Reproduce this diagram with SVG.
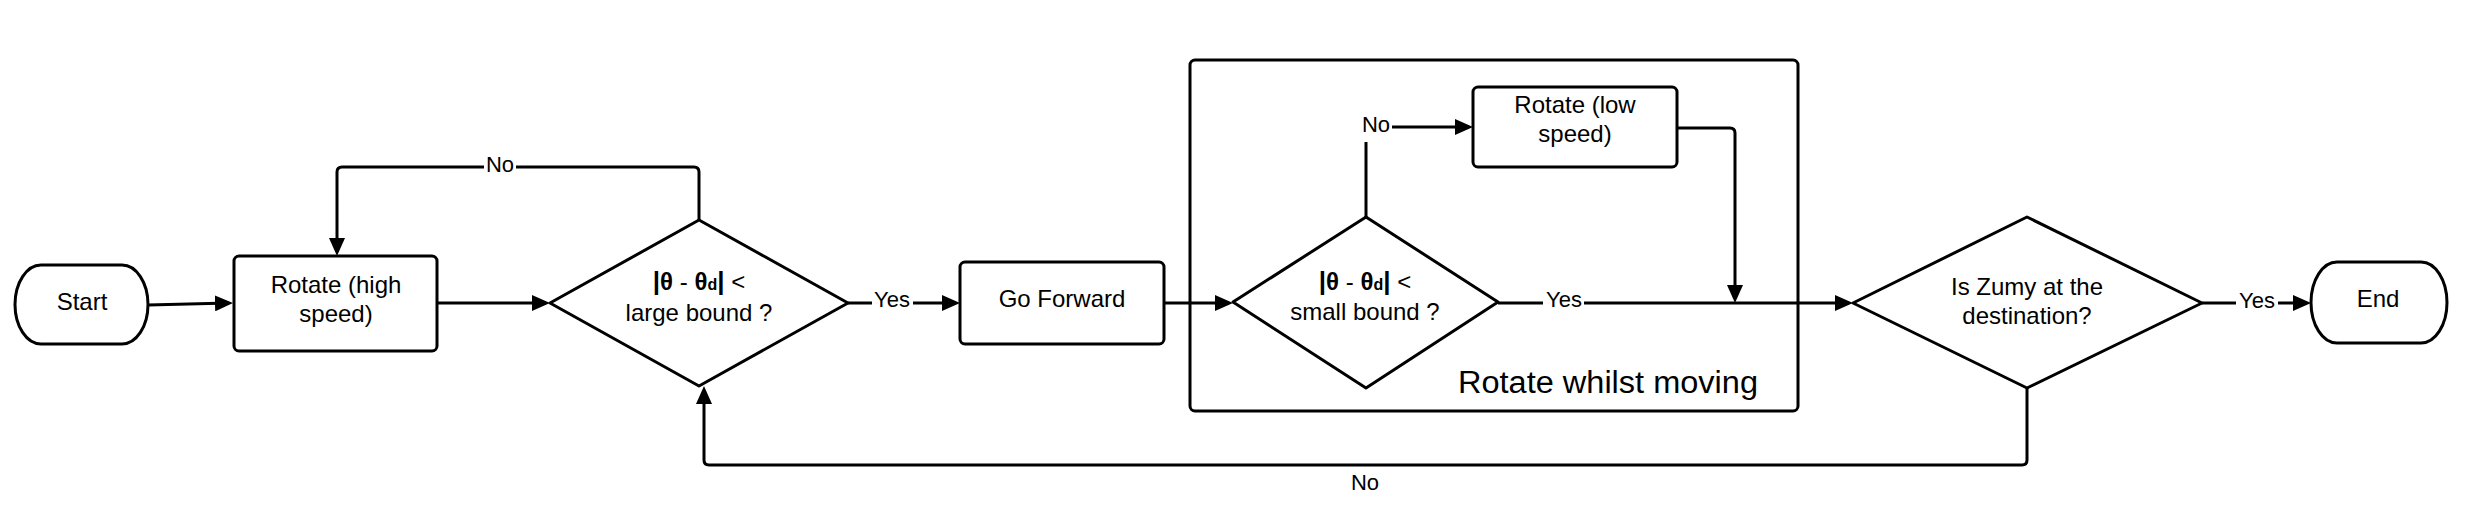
<svg xmlns="http://www.w3.org/2000/svg" width="2468" height="523" viewBox="0 0 2468 523">
<defs>
<marker id="arrow" markerUnits="userSpaceOnUse" markerWidth="18" markerHeight="16" refX="14" refY="8" orient="auto"><path d="M0,0 L18,8 L0,16 z" fill="#000"/></marker>
<style>
.shape{fill:#fff;stroke:#000;stroke-width:3;stroke-linejoin:round}
.conn{fill:none;stroke:#000;stroke-width:3;stroke-linejoin:round}
.arr{marker-end:url(#arrow)}
.t{font-family:"Liberation Sans",Arial,sans-serif;fill:#000;text-anchor:middle}
.n24{font-size:24px}
.lbl{font-size:22px}
.bg{fill:#fff}
.b{font-weight:bold}
</style>
</defs>
<rect width="2468" height="523" fill="#fff"/>

<g id="group-rotate-whilst-moving">
<rect class="shape" x="1190" y="60" width="608" height="351" rx="5"/>
<text class="t" x="1458" y="393" style="text-anchor:start;font-size:31px" textLength="300" lengthAdjust="spacingAndGlyphs">Rotate whilst moving</text>
</g>

<g id="connectors">
<path class="conn arr" d="M148,305 L229,303"/>
<path class="conn arr" d="M437,303 H546"/>
<path class="conn arr" d="M699,220 V172 Q699,167 694,167 H342 Q337,167 337,172 V252"/>
<path class="conn arr" d="M848,303 H956"/>
<path class="conn arr" d="M1164,303 H1229"/>
<path class="conn arr" d="M1366,217 V127 H1469"/>
<path class="conn arr" d="M1677,128 H1730 Q1735,128 1735,133 V299"/>
<path class="conn arr" d="M1498,303 H1849"/>
<path class="conn arr" d="M2202,303 H2307"/>
<path class="conn arr" d="M2027,388 V460 Q2027,465 2022,465 H709 Q704,465 704,460 V390"/>
<rect class="bg" x="484" y="152" width="32" height="28"/>
<text class="t lbl" x="500" y="172">No</text>
<rect class="bg" x="872" y="288" width="41" height="28"/>
<text class="t lbl" x="892" y="307">Yes</text>
<rect class="bg" x="1359" y="110" width="33" height="32"/>
<text class="t lbl" x="1376" y="132">No</text>
<rect class="bg" x="1543" y="288" width="41" height="28"/>
<text class="t lbl" x="1564" y="307">Yes</text>
<rect class="bg" x="2236" y="288" width="42" height="28"/>
<text class="t lbl" x="2257" y="308">Yes</text>
<text class="t lbl" x="1365" y="490">No</text>
</g>

<g id="start">
<rect class="shape" x="15" y="265" width="133" height="79" rx="26" ry="39.5"/>
<text class="t n24" x="82" y="310">Start</text>
</g>

<g id="rotate-high">
<rect class="shape" x="234" y="256" width="203" height="95" rx="5"/>
<text class="t n24" x="336" y="293">Rotate (high</text>
<text class="t n24" x="336" y="322">speed)</text>
</g>

<g id="decision-large">
<path class="shape" d="M550,303 L699,220 L848,303 L699,386 Z"/>
<text class="t n24" x="699" y="290"><tspan class="b" font-size="26">|</tspan><tspan class="b">θ</tspan> - <tspan class="b">θ</tspan><tspan class="b" font-size="16">d</tspan><tspan class="b" font-size="26">|</tspan> &lt;</text>
<text class="t n24" x="699" y="321">large bound ?</text>
</g>

<g id="go-forward">
<rect class="shape" x="960" y="262" width="204" height="82" rx="5"/>
<text class="t n24" x="1062" y="307">Go Forward</text>
</g>

<g id="decision-small">
<path class="shape" d="M1233,302 L1366,217 L1498,302 L1366,388 Z"/>
<text class="t n24" x="1365" y="290"><tspan class="b" font-size="26">|</tspan><tspan class="b">θ</tspan> - <tspan class="b">θ</tspan><tspan class="b" font-size="16">d</tspan><tspan class="b" font-size="26">|</tspan> &lt;</text>
<text class="t n24" x="1365" y="320">small bound ?</text>
</g>

<g id="rotate-low">
<rect class="shape" x="1473" y="87" width="204" height="80" rx="5"/>
<text class="t n24" x="1575" y="113">Rotate (low</text>
<text class="t n24" x="1575" y="142">speed)</text>
</g>

<g id="decision-destination">
<path class="shape" d="M1853,303 L2027,217 L2202,303 L2027,388 Z"/>
<text class="t n24" x="2027" y="295">Is Zumy at the</text>
<text class="t n24" x="2027" y="324">destination?</text>
</g>

<g id="end">
<rect class="shape" x="2311" y="262" width="136" height="81" rx="26" ry="40.5"/>
<text class="t n24" x="2378" y="307">End</text>
</g>
</svg>
